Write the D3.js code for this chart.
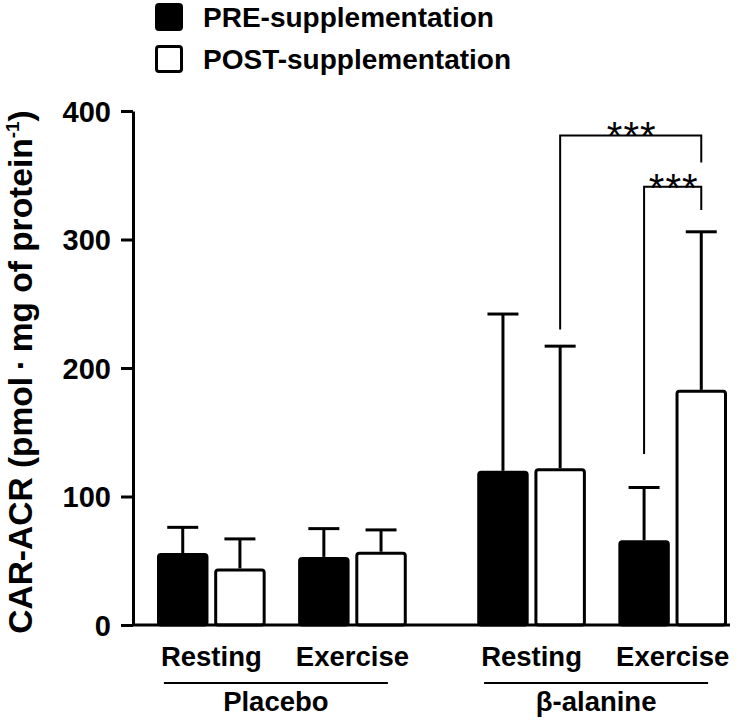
<!DOCTYPE html>
<html>
<head>
<meta charset="utf-8">
<script src="https://cdn.jsdelivr.net/npm/d3@7"></script>
<style>
body { margin: 0; background: #fff; }
svg text { font-family: "Liberation Sans", Arial, sans-serif; fill: #000; }
</style>
</head>
<body>
<svg id="chart" width="750" height="721"></svg>
<script>
// values (mean and SD, pmol/mg protein)
var groups = ["Placebo", "β-alanine"];
var conditions = ["Resting", "Exercise"];
var series = ["PRE-supplementation", "POST-supplementation"];
var preMean = [56, 53, 120, 66];
var preSd = [20, 22, 122, 41];
var postMean = [44, 57, 122, 183];
var postSd = [23, 17, 95, 123];
var yTicks = [0, 100, 200, 300, 400];

// significance brackets: [group, condition, series] of each end, leg ends and bracket level
var sigPairs = [
  { a: [1, 0, 1], b: [1, 1, 1], level: 381, legA: 230, legB: 360 },
  { a: [1, 1, 0], b: [1, 1, 1], level: 341, legA: 133, legB: 323 }
];

var svg = d3.select("#chart");

var x0 = d3.scaleBand().domain(groups).range([157, 727]).paddingInner(0.22);
var x1 = d3.scaleBand().domain(conditions).range([0, x0.bandwidth()]).paddingInner(0.23);
var x2 = d3.scaleBand().domain(series).range([0, x1.bandwidth()]).paddingInner(0.1);
var y = d3.scaleLinear().domain([0, 400]).range([625, 111]);

// build bar records
var bars = [];
groups.forEach(function(g, gi) {
  conditions.forEach(function(c, ci) {
    var k = gi * 2 + ci;
    bars.push({ g: g, c: c, s: series[0], mean: preMean[k], sd: preSd[k] });
    bars.push({ g: g, c: c, s: series[1], mean: postMean[k], sd: postSd[k] });
  });
});

function barX(d) { return x0(d.g) + x1(d.c) + x2(d.s); }
function barMid(d) { return barX(d) + x2.bandwidth() / 2; }
function findBar(idx) {
  return bars.filter(function(b) {
    return b.g === groups[idx[0]] && b.c === conditions[idx[1]] && b.s === series[idx[2]];
  })[0];
}

// error bars (drawn first so bars sit on top)
var err = svg.append("g").attr("stroke", "#000").attr("stroke-width", 3);
err.selectAll("line.v").data(bars).enter().append("line")
  .attr("x1", barMid).attr("x2", barMid)
  .attr("y1", function(d) { return y(d.mean); })
  .attr("y2", function(d) { return y(d.mean + d.sd); });
err.selectAll("line.cap").data(bars).enter().append("line")
  .attr("x1", function(d) { return barMid(d) - 15.5; })
  .attr("x2", function(d) { return barMid(d) + 15.5; })
  .attr("y1", function(d) { return y(d.mean + d.sd); })
  .attr("y2", function(d) { return y(d.mean + d.sd); });

// bars
svg.append("g").selectAll("rect").data(bars).enter().append("rect")
  .attr("x", function(d) { return barX(d) + 1.5; })
  .attr("width", x2.bandwidth() - 3)
  .attr("y", function(d) { return y(d.mean) + 1.5; })
  .attr("height", function(d) { return y(0) - y(d.mean) - 1.5; })
  .attr("rx", 2.5)
  .attr("fill", function(d) { return d.s === series[0] ? "#000" : "#fff"; })
  .attr("stroke", "#000")
  .attr("stroke-width", 3);

// y axis
var yAxis = svg.append("g")
  .attr("transform", "translate(133,0)")
  .call(d3.axisLeft(y).tickValues(yTicks).tickSize(12).tickSizeOuter(0).tickPadding(10));
yAxis.select(".domain").attr("stroke-width", 3);
yAxis.selectAll(".tick line").attr("stroke-width", 3);
yAxis.selectAll(".tick text")
  .attr("font-family", "Liberation Sans, Arial, sans-serif")
  .attr("font-size", 29).attr("font-weight", "bold").attr("dy", "0.36em");

// baseline
svg.append("line")
  .attr("x1", 133).attr("x2", 730)
  .attr("y1", y(0)).attr("y2", y(0))
  .attr("stroke", "#000").attr("stroke-width", 3);

// y axis title
var yt = svg.append("text")
  .attr("transform", "translate(32," + 372 + ") rotate(-90)")
  .attr("text-anchor", "middle")
  .attr("font-size", 33.5).attr("font-weight", "bold");
yt.append("tspan").text("CAR-ACR (pmol\u2009\u00b7\u2009mg of protein");
yt.append("tspan").attr("font-size", 19).attr("dy", -13).text("-1");
yt.append("tspan").attr("dy", 13).text(")");

// condition labels
groups.forEach(function(g) {
  conditions.forEach(function(c) {
    svg.append("text")
      .attr("x", x0(g) + x1(c) + x1.bandwidth() / 2)
      .attr("y", 666)
      .attr("text-anchor", "middle")
      .attr("font-size", 27.5).attr("font-weight", "bold")
      .text(c);
  });
});

// group underline + labels
svg.selectAll("line.grp").data(groups).enter().append("line")
  .attr("x1", function(g) { return x0(g) + x0.bandwidth() / 2 - 6 - 112; })
  .attr("x2", function(g) { return x0(g) + x0.bandwidth() / 2 - 6 + 112; })
  .attr("y1", 683).attr("y2", 683)
  .attr("stroke", "#000").attr("stroke-width", 2);
svg.selectAll("text.grp").data(groups).enter().append("text")
  .attr("x", function(g) { return x0(g) + x0.bandwidth() / 2 - 6; })
  .attr("y", 711)
  .attr("text-anchor", "middle")
  .attr("font-size", 27.5).attr("font-weight", "bold")
  .text(function(g) { return g; });

// significance brackets
sigPairs.forEach(function(p) {
  var xa = barMid(findBar(p.a)), xb = barMid(findBar(p.b));
  svg.append("path")
    .attr("d", "M" + xa + "," + y(p.legA) + "V" + y(p.level) + "H" + xb + "V" + y(p.legB))
    .attr("fill", "none").attr("stroke", "#000").attr("stroke-width", 2);
  svg.append("text")
    .attr("x", (xa + xb) / 2 + 1)
    .attr("y", y(p.level) + 15)
    .attr("text-anchor", "middle")
    .attr("font-size", 40).attr("letter-spacing", 1)
    .text("***");
});

// legend
var leg = svg.append("g");
series.forEach(function(s, i) {
  leg.append("rect")
    .attr("x", 156.5).attr("y", 4.5 + i * 42)
    .attr("width", 25).attr("height", 25).attr("rx", 2.5)
    .attr("fill", i === 0 ? "#000" : "#fff")
    .attr("stroke", "#000").attr("stroke-width", 3);
  leg.append("text")
    .attr("x", 203).attr("y", 27 + i * 42)
    .attr("font-size", 28).attr("font-weight", "bold")
    .text(s);
});
</script>
</body>
</html>
